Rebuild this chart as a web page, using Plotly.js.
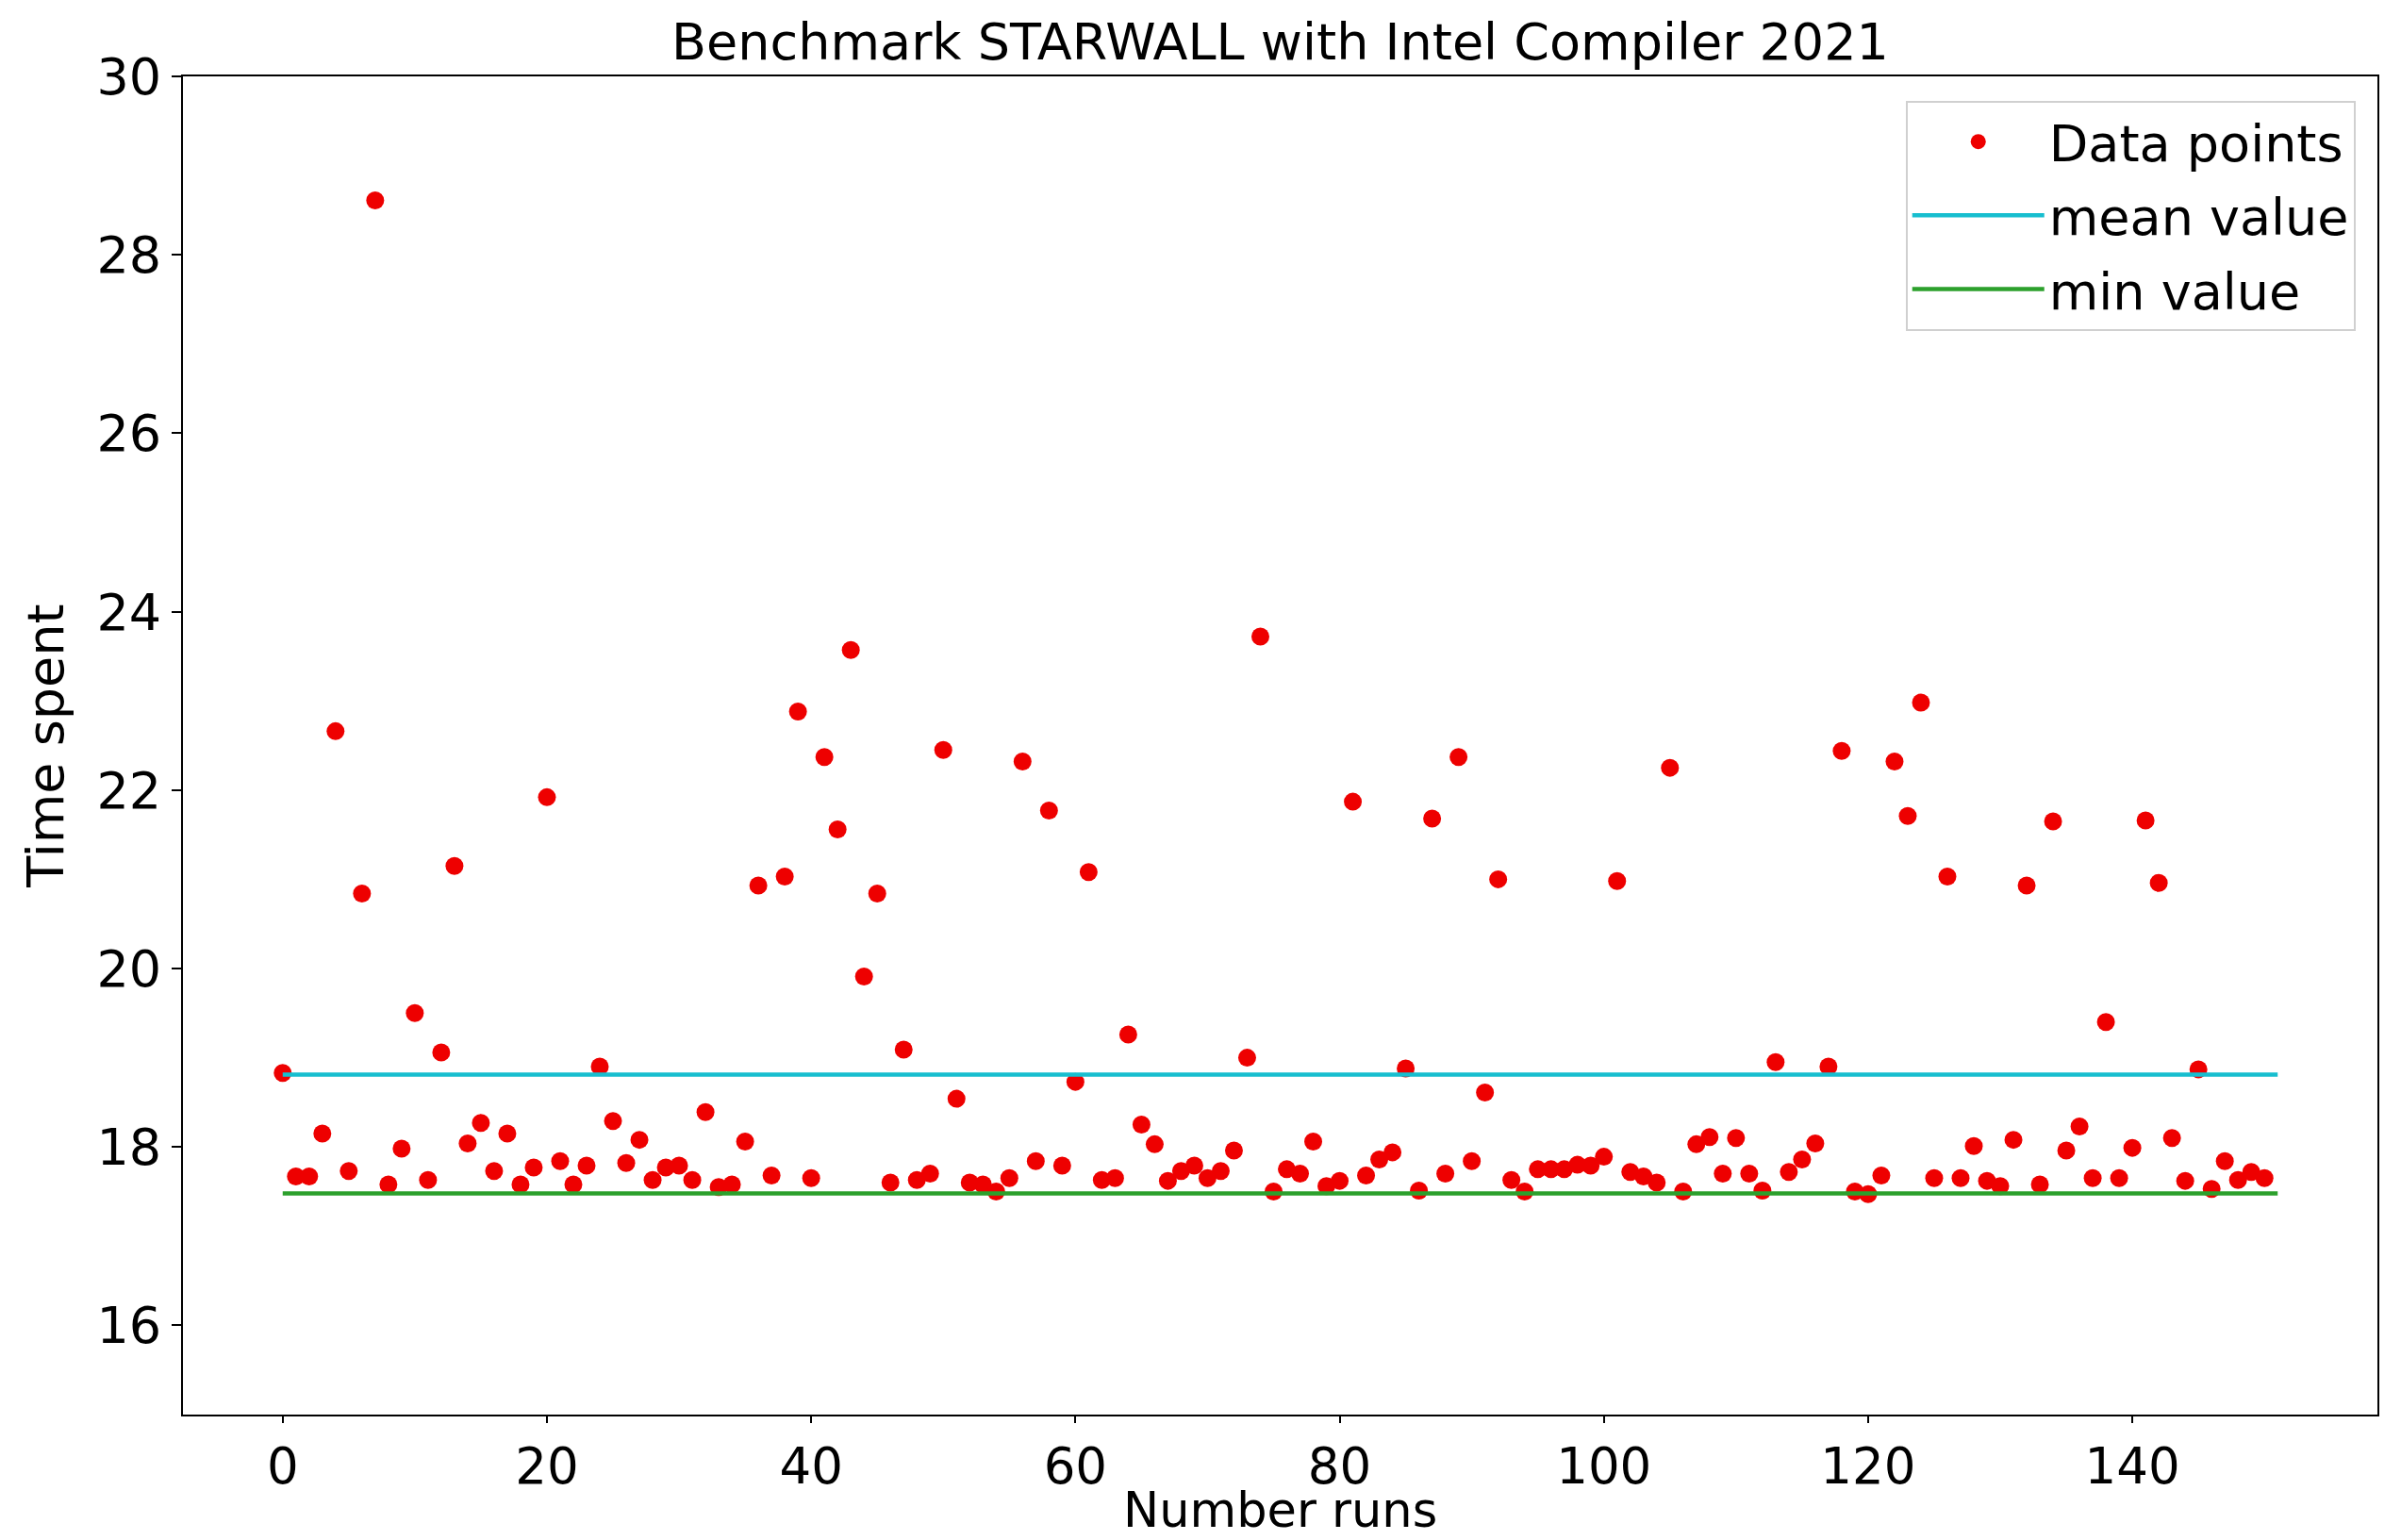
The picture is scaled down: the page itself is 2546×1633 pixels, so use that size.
<!DOCTYPE html>
<html>
<head>
<meta charset="utf-8">
<script src="https://cdn.plot.ly/plotly-3.0.1.min.js"></script>
<style>html,body{margin:0;padding:0;background:#fff;}#chart{width:2546px;height:1633px;}</style>
</head>
<body>
<div id="chart"></div>
<script>
// Run index 0..150
const runs = Array.from({length: 151}, (_, i) => i);
// Time spent per run
const timeSpent = [
  18.83, 17.67, 17.67, 18.15, 22.66, 17.73, 20.84, 28.61, 17.58, 17.98,
  19.50, 17.63, 19.06, 21.15, 18.04, 18.27, 17.73, 18.15, 17.58, 17.77,
  21.92, 17.84, 17.58, 17.79, 18.90, 18.29, 17.82, 18.08, 17.63, 17.77,
  17.79, 17.63, 18.39, 17.55, 17.58, 18.06, 20.93, 17.68, 21.03, 22.88,
  17.65, 22.37, 21.56, 23.57, 19.91, 20.84, 17.60, 19.09, 17.63, 17.70,
  22.45, 18.54, 17.60, 17.58, 17.50, 17.65, 22.32, 17.84, 21.77, 17.79,
  18.73, 21.08, 17.63, 17.65, 19.26, 18.25, 18.03, 17.62, 17.73, 17.79,
  17.65, 17.73, 17.96, 19.00, 23.72, 17.50, 17.75, 17.70, 18.06, 17.56,
  17.62, 21.87, 17.68, 17.86, 17.94, 18.88, 17.51, 21.68, 17.70, 22.37,
  17.84, 18.61, 21.00, 17.63, 17.50, 17.75, 17.75, 17.75, 17.80, 17.79,
  17.89, 20.98, 17.72, 17.67, 17.60, 22.25, 17.50, 18.03, 18.11, 17.70,
  18.10, 17.70, 17.51, 18.95, 17.72, 17.86, 18.04, 18.90, 22.44, 17.50,
  17.47, 17.68, 22.32, 21.71, 22.98, 17.65, 21.03, 17.65, 18.01, 17.62,
  17.56, 18.08, 20.93, 17.58, 21.65, 17.96, 18.23, 17.65, 19.40, 17.65,
  17.99, 21.66, 20.96, 18.10, 17.62, 18.87, 17.53, 17.84, 17.63, 17.72,
  17.65
];
const lineX = [0, 151];
const meanValue = 18.81;
const minValue = 17.48;
const yTicks = [16, 18, 20, 22, 24, 26, 28, 30];
const xTicks = [0, 20, 40, 60, 80, 100, 120, 140];
const xTitle = 'Number runs';

const FONT = "DejaVu Sans, sans-serif";

const traces = [
  {
    x: runs, y: timeSpent, type: 'scatter', mode: 'markers', name: 'Data points',
    legendgroup: 'g1',
    marker: {color: '#ee0000', size: 19, line: {width: 0}}
  },
  {
    x: lineX, y: [meanValue, meanValue], type: 'scatter', mode: 'lines', name: 'mean value',
    legendgroup: 'g2',
    line: {color: '#17becf', width: 4.5}
  },
  {
    x: lineX, y: [minValue, minValue], type: 'scatter', mode: 'lines', name: 'min value',
    legendgroup: 'g3',
    line: {color: '#2ca02c', width: 4.5}
  }
];

const layout = {
  width: 2546, height: 1633,
  paper_bgcolor: '#fff', plot_bgcolor: '#fff',
  margin: {l: 194, r: 25, t: 81, b: 133, pad: 0},
  font: {family: FONT, size: 54, color: '#000'},
  showlegend: true,
  title: {
    text: 'Benchmark STARWALL with Intel Compiler 2021',
    font: {family: FONT, size: 54, color: '#000'},
    xref: 'paper', x: 0.5, xanchor: 'center',
    yref: 'container', y: 1 - 44/1633, yanchor: 'middle'
  },
  xaxis: {
    range: [-7.55, 158.55],
    tickmode: 'array', tickvals: xTicks, ticktext: xTicks.map(String),
    ticks: 'outside', ticklen: 7, tickwidth: 2, tickcolor: '#000',
    showline: true, linecolor: '#000', linewidth: 2, mirror: true,
    showgrid: false, zeroline: false,
    tickfont: {family: FONT, size: 53, color: '#000'},
    automargin: false
  },
  yaxis: {
    range: [15, 30],
    tickmode: 'array', tickvals: yTicks, ticktext: yTicks.map(String),
    ticks: 'outside', ticklen: 10, tickwidth: 2, tickcolor: '#000',
    showline: true, linecolor: '#000', linewidth: 2, mirror: true,
    showgrid: false, zeroline: false,
    tickfont: {family: FONT, size: 54, color: '#000'},
    title: {text: 'Time spent', font: {family: FONT, size: 54, color: '#000'}, standoff: 18},
    automargin: false
  },
  annotations: [{
    text: xTitle, xref: 'paper', yref: 'paper', x: 0.5, y: 0,
    xanchor: 'center', yanchor: 'middle', yshift: -101, showarrow: false,
    font: {family: FONT, size: 51, color: '#000'}
  }],
  legend: {
    x: 0.990, xanchor: 'right', y: 0.982, yanchor: 'top',
    bgcolor: 'rgba(255,255,255,0.9)', bordercolor: '#d0d0d0', borderwidth: 2,
    font: {family: FONT, size: 54, color: '#000'},
    traceorder: 'grouped', tracegroupgap: 5,
    itemwidth: 140
  }
};

Plotly.newPlot('chart', traces, layout, {staticPlot: true, displayModeBar: false});
</script>
</body>
</html>
